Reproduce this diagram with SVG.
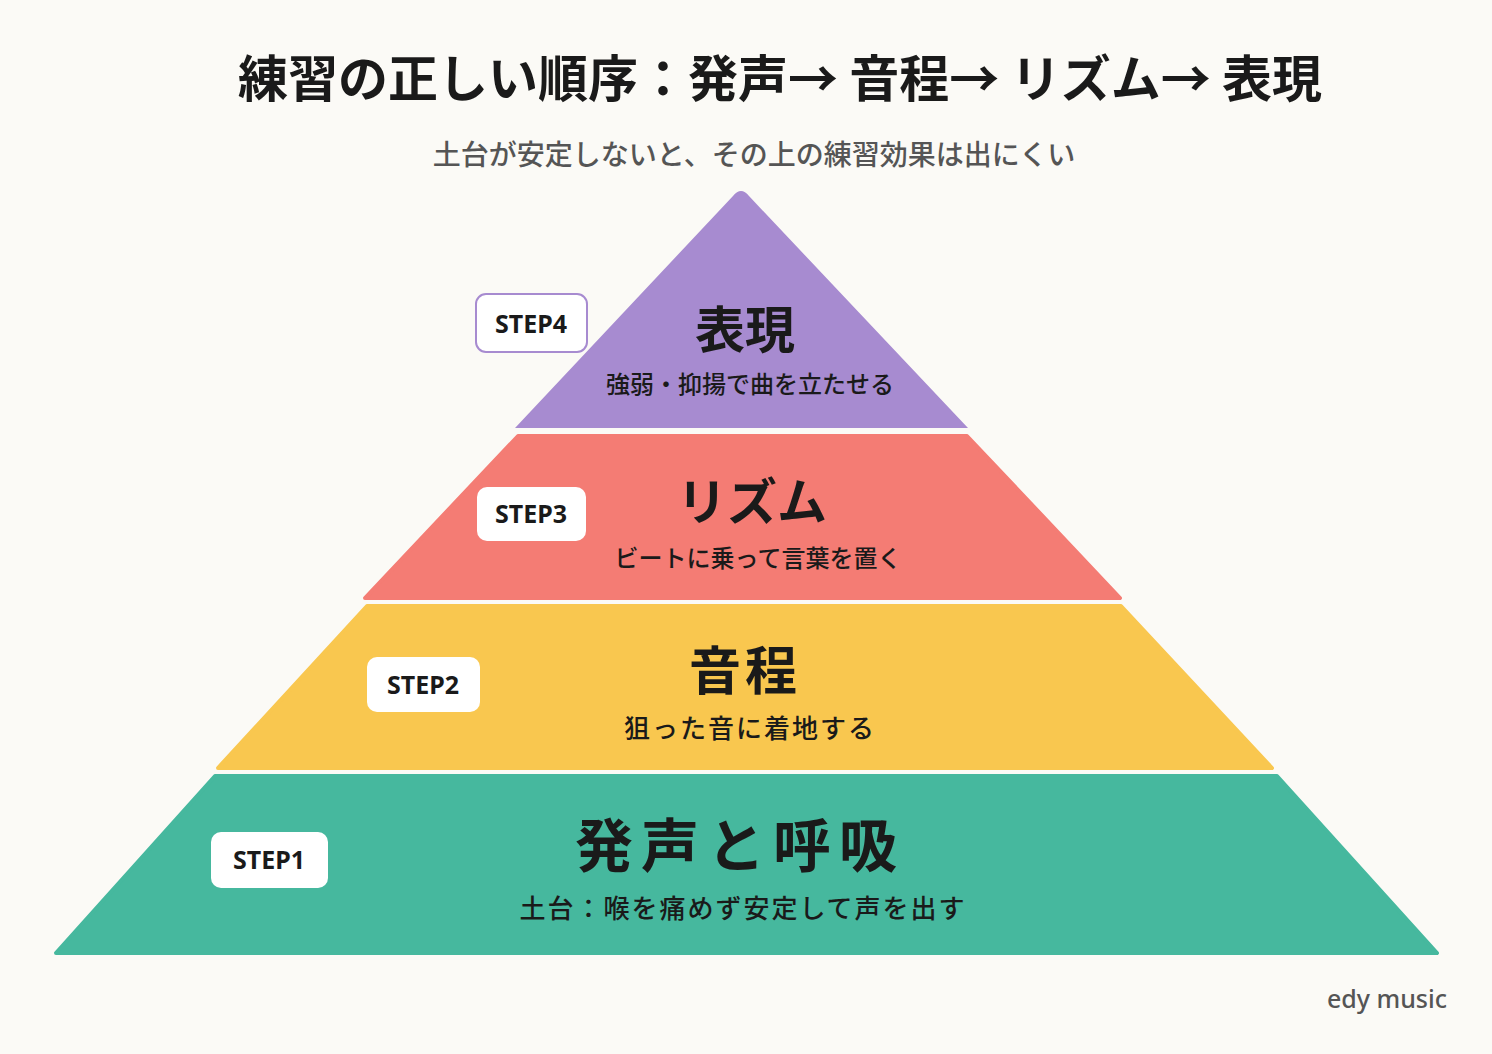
<svg xmlns="http://www.w3.org/2000/svg" width="1492" height="1054" viewBox="0 0 1492 1054">
<style>
.jp{font-family:"Noto Sans CJK JP","Noto Sans",sans-serif;font-weight:700;fill:#1a1a1a;text-anchor:middle}
.sub{font-family:"Noto Sans CJK JP","Noto Sans",sans-serif;font-weight:500;fill:#1a1a1a;text-anchor:middle;font-size:24px}
.step{font-family:"Noto Sans","Noto Sans CJK JP",sans-serif;font-weight:700;font-size:25px;fill:#1a1a1a;text-anchor:middle}
.box{fill:#fff}
</style>
<rect width="1492" height="1054" fill="#FBFAF6"/>
<text x="780" y="97" class="jp" font-size="50">練習の正しい順序：発声→ 音程→ リズム→ 表現</text>
<text x="754" y="165" class="jp" font-size="28" font-weight="500" style="fill:#555;font-weight:500">土台が安定しないと、その上の練習効果は出にくい</text>
<g id="step4">
<path d="M733,196 Q741,186 749,196 L968,428 L515,428 Z" fill="#A78BD0"/>
<rect x="476" y="294" width="111" height="58" rx="10" class="box" stroke="#A78BD0" stroke-width="2"/>
<text x="531" y="333" class="step">STEP4</text>
<text x="745" y="348" class="jp" font-size="50">表現</text>
<text x="750" y="393" class="sub">強弱・抑揚で曲を立たせる</text>
</g>
<g id="step3">
<path d="M518,436 L967,436 L1120,598 L365,598 Z" fill="#F47C74" stroke="#F47C74" stroke-width="4" stroke-linejoin="round"/>
<rect x="477" y="487" width="109" height="54" rx="10" class="box"/>
<text x="531" y="523" class="step">STEP3</text>
<text x="752" y="520" class="jp" font-size="50">リズム</text>
<text x="758" y="567" class="sub">ビートに乗って言葉を置く</text>
</g>
<g id="step2">
<path d="M367,606 L1121,606 L1272,768 L218,768 Z" fill="#F9C74F" stroke="#F9C74F" stroke-width="4" stroke-linejoin="round"/>
<rect x="367" y="657" width="113" height="55" rx="10" class="box"/>
<text x="423" y="694" class="step">STEP2</text>
<text x="745" y="690" class="jp" font-size="52" letter-spacing="4">音程</text>
<text x="750" y="738" class="sub" font-size="26" style="font-size:26px" letter-spacing="2">狙った音に着地する</text>
</g>
<g id="step1">
<path d="M215,776 L1277,776 L1437,953 L56,953 Z" fill="#46B89E" stroke="#46B89E" stroke-width="4" stroke-linejoin="round"/>
<rect x="211" y="832" width="117" height="56" rx="10" class="box"/>
<text x="269" y="869" class="step">STEP1</text>
<text x="740" y="867" class="jp" font-size="58" letter-spacing="8">発声と呼吸</text>
<text x="743" y="918" class="sub" font-size="26" style="font-size:26px" letter-spacing="2">土台：喉を痛めず安定して声を出す</text>
</g>
<g id="connectors"/>
<text x="1447" y="1008" font-family="Noto Sans,sans-serif" font-size="25" font-weight="500" fill="#555" text-anchor="end">edy music</text>
</svg>
